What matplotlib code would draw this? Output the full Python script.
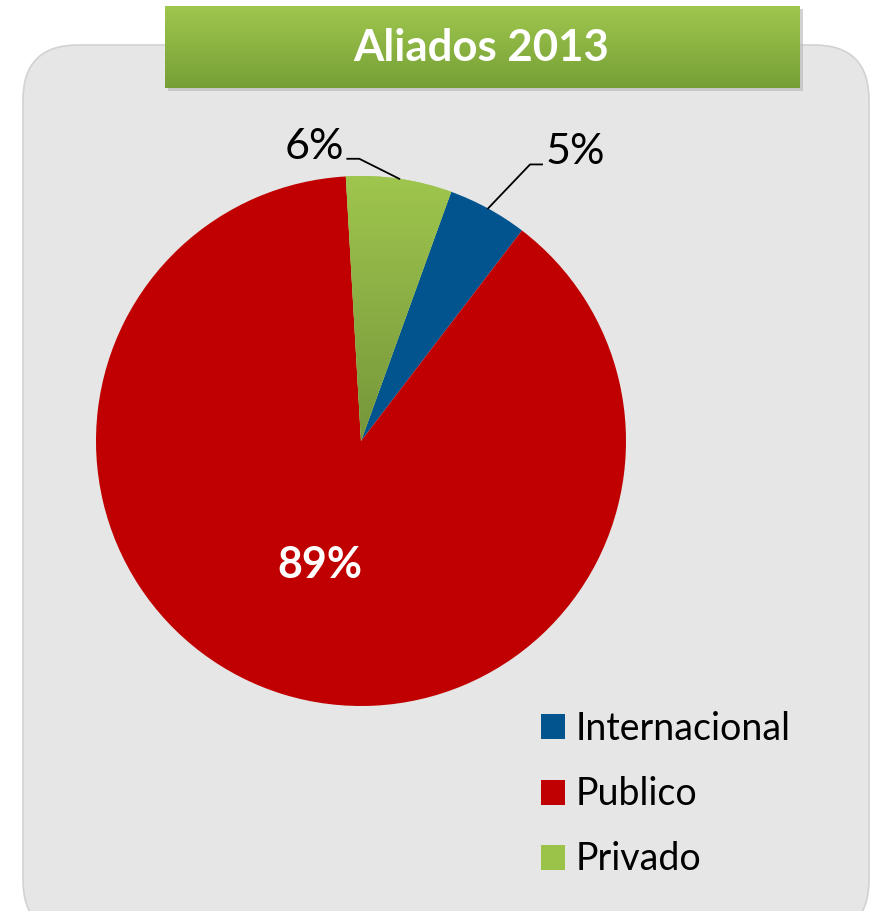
import numpy as np
import matplotlib
matplotlib.use("Agg")
from matplotlib import pyplot as plt
from matplotlib.patches import FancyBboxPatch, Rectangle
from matplotlib.colors import LinearSegmentedColormap

plt.rcParams['font.family'] = ['Lato', 'DejaVu Sans']

# data
title = "Aliados 2013"
labels = ["Internacional", "Publico", "Privado"]
values = [4.86, 88.7, 6.44]
colors = ["#02548f", "#c00000", "#9bc34a"]

W, H = 873, 911


def Y(y):
    # pixel row (from top) -> data y
    return H - y


fig = plt.figure(figsize=(W / 100, H / 100), dpi=100)
ax = fig.add_axes([0, 0, 1, 1])

# panel background
panel = FancyBboxPatch((23, Y(935)), 846, 890, boxstyle="round,pad=0,rounding_size=55",
                       facecolor="#e6e6e6", edgecolor="#d2d2d2", linewidth=1.2, zorder=0)
ax.add_patch(panel)

# title box with shadow + gradient
ax.add_patch(Rectangle((168, Y(91)), 635, 82, facecolor="#b5b5b5", edgecolor="none", zorder=1, alpha=0.6))
tbox = Rectangle((165, Y(88)), 635, 82, facecolor="none", edgecolor="none", zorder=2)
ax.add_patch(tbox)
grad = np.linspace(0, 1, 100).reshape(-1, 1)
gcmap = LinearSegmentedColormap.from_list("g", ["#9fc64e", "#76a036"])
im = ax.imshow(grad, cmap=gcmap, extent=(165, 800, Y(88), Y(6)), origin='upper',
               aspect='auto', zorder=2)
im.set_clip_path(tbox)
ax.text(481, Y(48), title, color="white", fontsize=31.5, fontweight="bold",
        ha="center", va="center", zorder=3)

# pie
cx, cy, r = 361, Y(441), 265
wedges, _ = ax.pie(values, colors=colors, startangle=70.1, counterclock=False,
                   center=(cx, cy), radius=r, frame=True,
                   wedgeprops=dict(linewidth=0, zorder=3))
ax.set_xlim(0, W)
ax.set_ylim(0, H)
ax.set_aspect('equal')
ax.axis('off')

# gradient on privado wedge
pw = wedges[2]
pcmap = LinearSegmentedColormap.from_list("p", ["#9fc64e", "#76963a"])
im2 = ax.imshow(grad, cmap=pcmap, extent=(cx - 30, cx + 100, cy, cy + r + 2), origin='upper',
                aspect='auto', zorder=3.5)
im2.set_clip_path(pw)

pct = [v / sum(values) * 100 for v in values]

# big label inside publico
w = wedges[1]
mid = np.deg2rad((w.theta1 + w.theta2) / 2)
ax.text(cx + 0.5 * r * np.cos(mid) - 2, cy + 0.5 * r * np.sin(mid) + 3, f"{pct[1]:.0f}%",
        color="white", fontsize=31, fontweight="bold", ha="center", va="center", zorder=5)

# outside labels with leader lines
for i, side in [(0, 1), (2, -1)]:
    w = wedges[i]
    mid = np.deg2rad((w.theta1 + w.theta2) / 2)
    ex, ey = cx + r * np.cos(mid), cy + r * np.sin(mid)
    if side > 0:
        kx, ky = ex + 42, ey + 44
    else:
        kx, ky = ex - 40, ey + 20
    hx = kx + side * 12
    ax.plot([ex, kx, hx], [ey, ky, ky], color="black", linewidth=1.3, zorder=5)
    ax.text(hx + side * 3, ky + 12, f"{pct[i]:.0f}%", fontsize=31,
            ha="left" if side > 0 else "right", va="center", zorder=5)

# legend
leg = ax.legend(wedges, labels, loc="upper left", bbox_to_anchor=(526 / W, 1 - 696 / H),
                frameon=False, fontsize=27, handlelength=0.65, handleheight=0.65,
                handletextpad=0.27, labelspacing=0.78, borderaxespad=0)

fig.savefig("out.png", dpi=100)
